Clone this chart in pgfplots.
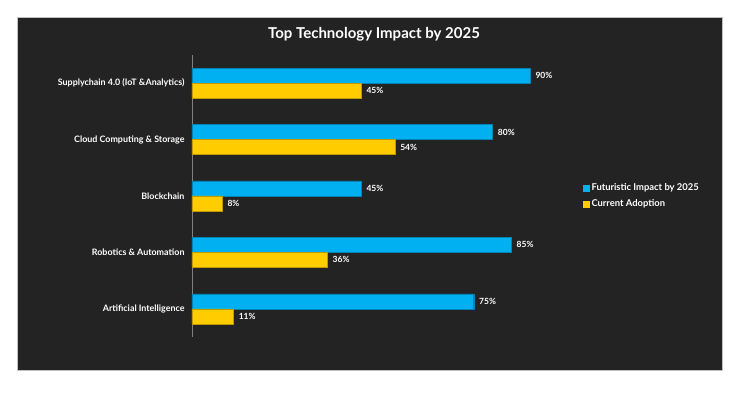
\documentclass[border=0pt]{standalone}
\usepackage{pgfplots}
\pgfplotsset{compat=1.18}
\usepackage{fontspec}
\setmainfont{Lato}
\definecolor{bg}{HTML}{232323}
\definecolor{cblue}{HTML}{00B0F0}
\definecolor{cyel}{HTML}{FFCC00}
\begin{document}
\begin{tikzpicture}
\fill[white] (0pt,0pt) rectangle (742pt,396pt);
\filldraw[fill=bg, draw=gray!50] (17pt,26pt) rectangle (722pt,379pt);
\node[text=white, font=\bfseries\fontsize{15}{17}\selectfont] at (374pt,362pt) {Top Technology Impact by 2025};
\begin{axis}[at={(192pt,59pt)}, anchor=south west, scale only axis,
  width=375.6pt, height=282pt,
  xbar, xmin=0, xmax=100, ymin=-0.5, ymax=4.5,
  axis x line=none, axis y line*=left,
  axis line style={draw=gray, line width=0.8pt, -},
  ytick={0,1,2,3,4},
  yticklabels={Artificial Intelligence, Robotics \& Automation, Blockchain, Cloud Computing \& Storage, Supplychain 4.0 (IoT \&Analytics)},
  major tick length=0pt,
  yticklabel style={text=white, font=\bfseries\fontsize{8.9}{10}\selectfont, xshift=-4pt},
  bar width=15pt,
  point meta=x,
  /pgf/number format/assume math mode=true,
  nodes near coords={\pgfmathprintnumber{\pgfplotspointmeta}\%},
  nodes near coords style={text=white, font=\bfseries\fontsize{8.5}{10}\selectfont, anchor=west, xshift=2pt},
  legend style={at={(1.041,0.5)}, anchor=west, fill=none, draw=none, text=white,
    font=\bfseries\fontsize{9.4}{11}\selectfont, inner sep=0pt, row sep=4pt},
  legend cell align=left,
  clip=false,
]
\addplot[fill=cblue, draw=cblue!75!black, line width=0.3pt, bar shift=7.5pt,
  legend image code/.code={\fill[cblue] (0pt,-3pt) rectangle (6pt,3pt);}]
  coordinates {(75,0) (85,1) (45,2) (80,3) (90,4)};
\addlegendentry{Futuristic Impact by 2025}
\addplot[fill=cyel, draw=cyel!75!black, line width=0.3pt, bar shift=-7.5pt,
  legend image code/.code={\fill[cyel] (0pt,-3pt) rectangle (6pt,3pt);}]
  coordinates {(11,0) (36,1) (8,2) (54,3) (45,4)};
\addlegendentry{Current Adoption}
\end{axis}
\end{tikzpicture}
\end{document}
